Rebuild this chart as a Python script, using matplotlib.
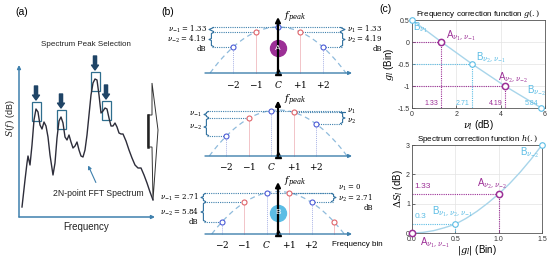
import numpy as np
import matplotlib.pyplot as plt
from matplotlib.patches import Rectangle, Polygon

plt.rcParams['font.family'] = ['Liberation Sans', 'DejaVu Sans']
plt.rcParams['mathtext.fontset'] = 'dejavuserif'

W, H = 550, 260

# ---------------- data ----------------
# (a) spectrum sketch (frequency, level in arbitrary units)
spec_f = [3, 6, 8, 9, 11, 13, 15, 17, 19, 21, 23, 25, 27, 29, 31, 34, 36, 38, 40, 42, 44, 46, 48,
          50, 52, 54, 56, 58, 60, 62, 64, 66, 68, 70, 72, 74, 76, 78, 80, 82, 84, 86, 88, 90, 92,
          94, 96, 98, 100, 102, 104, 107, 110, 113, 116, 119, 122, 125, 128, 131, 134]
spec_s = [10, 37, 54, 61, 52, 72, 97, 108, 105, 92, 88, 95, 91, 80, 62, 42, 54, 79, 96, 100, 94,
          80, 77, 82, 75, 69, 71, 75, 67, 61, 60, 67, 82, 102, 122, 134, 138, 137, 122, 104, 106,
          109, 108, 99, 91, 91, 94, 90, 84, 83, 83, 76, 67, 59, 52, 49, 49, 42, 34, 25, 17]
peak_f = [17, 42, 76, 87]
peak_s = [108, 100, 138, 109]

# (b) bins relative to f_peak, drawn level relative to the lobe top
row_bins = [[-2, -1, 0, 1, 2], [-2, -1, 0, 1, 2], [-2, -1, 0, 1, 2, 3]]
row_shift = [0.0, -0.3, -0.5]
row_level = [[-20, -5, 0, -5, -20],
             [-25.5, -7.5, -0.5, -1.5, -13.5],
             [-30, -10, -1, -1, -10, -30]]
tick_names = {-2: '$-2$', -1: '$-1$', 0: '$C$', 1: '$+1$', 2: '$+2$'}
nu_left = [['1.33', '4.19'], None, ['2.71', '5.84']]
nu_right = [['1.33', '4.19'], None, ['0', '2.71']]
row_badge = ['A', None, 'B']

# (c) correction functions
g_nu = [0, 1.33, 2.71, 4.19, 5.84]
g_val = [0.5, 0, -0.5, -1, -1.5]
g_kind = ['B', 'A', 'B', 'A', 'B']
g_tags = [r'B$_{\nu_1}$', r'A$_{\nu_1,\nu_{-1}}$', r'B$_{\nu_2,\nu_{-1}}$',
          r'A$_{\nu_2,\nu_{-2}}$', r'B$_{\nu_{-2}}$']

h_g = [0, 0.5, 1, 1.5]
h_ds = [0, 0.3, 1.33, 3]
h_kind = ['A', 'B', 'A', 'B']
h_tags = [r'A$_{\nu_1,\nu_{-1}}$', r'B$_{\nu_1,\nu_2,\nu_{-1}}$',
          r'A$_{\nu_2,\nu_{-2}}$', r'B$_{\nu_{-2}}$']
h_curve_g = [0, 0.125, 0.25, 0.375, 0.5, 0.625, 0.75, 0.875, 1.0, 1.125, 1.25, 1.375, 1.5]
h_curve_ds = [0, 0.02, 0.08, 0.18, 0.3, 0.5, 0.74, 1.02, 1.33, 1.68, 2.08, 2.52, 3.0]

# colours
AXC = '#3f80ad'
NAVY = '#1f4466'
BLUE = '#4b5bd6'
RED = '#e0646a'
PURPLE = '#9c2f96'
CYAN = '#5cbde5'
LINE = '#a8d5ea'

fig = plt.figure(figsize=(5.5, 2.6), dpi=100)


def px_axes(x0, y0, x1, y1):
    return fig.add_axes([x0 / W, 1 - y1 / H, (x1 - x0) / W, (y1 - y0) / H])


def ftext(x, y, s, **kw):
    fig.text(x / W, 1 - y / H, s, **kw)


ftext(22, 12, '(a)', fontsize=7.5, ha='center', va='center')
ftext(168, 12, '(b)', fontsize=7.5, ha='center', va='center')
ftext(386, 9, '(c)', fontsize=7.5, ha='center', va='center')

# ---------------- (a) ----------------
ax = px_axes(19, 65, 165, 217)
ax.set_xlim(0, 146)
ax.set_ylim(0, 152)
ax.axis('off')
arr = dict(arrowstyle='-|>', color=AXC, lw=1.1, mutation_scale=5, shrinkA=0, shrinkB=0)
ax.annotate('', xy=(0, 152), xytext=(0, 0), arrowprops=arr)
ax.annotate('', xy=(136, 0), xytext=(0, 0), arrowprops=arr)
ax.plot(spec_f, spec_s, color='#2d2d3a', lw=1.0)
for pf, ps in zip(peak_f, peak_s):
    ax.add_patch(Rectangle((pf - 4.5, ps - 12), 9, 19, fill=False, ec='#2f6e8e', lw=0.9))
    ax.annotate('', xy=(pf, ps + 9), xytext=(pf, ps + 23),
                arrowprops=dict(arrowstyle='simple,head_length=0.7,head_width=1.0,tail_width=0.45',
                                color=NAVY, mutation_scale=5, shrinkA=0, shrinkB=0))
ax.text(67, 172, 'Spectrum Peak Selection', fontsize=5.8, ha='center', va='center', color='#222')
ax.text(-9, 99, '$S(f)$ (dB)', fontsize=6.5, rotation=90, ha='center', va='center', color='#222')
ax.text(67, -10, 'Frequency', fontsize=7, ha='center', va='center', color='#222')
ax.text(79, 24, '2N-point FFT Spectrum', fontsize=6.2, ha='center', va='center', color='#222')
ax.annotate('', xy=(68, 54), xytext=(78, 32),
            arrowprops=dict(arrowstyle='-|>', color=AXC, lw=0.8, mutation_scale=5))
big = [(133, 134), (139, 87), (134, 17), (133, 70), (129, 70), (129, 102), (133, 102)]
ax.add_patch(Polygon(big, closed=True, fill=False, ec='#333', lw=0.7))
ax.plot([129, 129], [70, 102], color='#222', lw=1.8)

# ---------------- (b) ----------------
peak_px, bin_px = 278, 22.4
frames = [(10, 92, 27), (94, 172, 110.5), (174, 256, 192)]
axis_px = [73, 156, 234]
lbrace_px = [212, 207, 204]
rbrace_px = [342, 342, 333]
BR = '#2e6f9e'
NUFS = 5.0


def brace(ax, x, y0, y1, left, w):
    ym = (y0 + y1) / 2
    s = 1 if left else -1
    xs = [x + s * w, x + s * w * 0.3, x + s * w * 0.3, x - s * w * 0.5, x + s * w * 0.3, x + s * w * 0.3, x + s * w]
    d = min(1.0, abs(y1 - y0) / 4)
    hi, lo = max(y0, y1), min(y0, y1)
    ys = [hi, hi - d, ym + d, ym, ym - d, lo + d, lo]
    ax.plot(xs, ys, color=BR, lw=0.8)


for r in range(3):
    top, bot, vtx = frames[r]
    ax = px_axes(160, top, 400, bot)
    ax.set_xlim((160 - peak_px) / bin_px, (400 - peak_px) / bin_px)
    ax.set_ylim(vtx - bot, vtx - top)
    ax.axis('off')
    bx = lambda p: (p - peak_px) / bin_px
    ay = vtx - axis_px[r]
    bins = np.array(row_bins[r])
    xs = bins + row_shift[r]
    lv = np.array(row_level[r], dtype=float)

    ax.annotate('', xy=(bx(352), ay), xytext=(bx(205), ay),
                arrowprops=dict(arrowstyle='-|>', color=AXC, lw=1.0, mutation_scale=5, shrinkA=0, shrinkB=0))
    cf = np.polyfit(xs, lv, 2)
    roots = np.sort(np.roots(cf - np.array([0, 0, ay])).real)
    xx = np.linspace(roots[0], roots[1], 200)
    ax.plot(xx, np.polyval(cf, xx), color='#8fbbdc', lw=0.9, ls=(0, (4, 3)))

    kidx = {k: i for i, k in enumerate(bins)}
    imax = int(np.argmax(lv))
    xl, xr = bx(lbrace_px[r]), bx(rbrace_px[r])
    hl = dict(color=AXC, lw=0.8, ls=(0, (1, 1)))
    ax.plot([xl, xr], [lv[imax]] * 2, **hl)
    for k in (-1, -2):
        ax.plot([xl, xs[kidx[k]]], [lv[kidx[k]]] * 2, **hl)
    for k in (1, 2):
        ax.plot([xs[kidx[k]], xr], [lv[kidx[k]]] * 2, **hl)

    for k, x, y in zip(bins, xs, lv):
        if k % 2:
            ax.plot([x, x], [ay, y], color='#f2c4c8', lw=0.7)
        else:
            ax.plot([x, x], [ay, y], color='#a9b3e6', lw=0.7, ls=(0, (1, 1)))
    for k, x, y in zip(bins, xs, lv):
        ax.plot(x, y, 'o', ms=3.6, mfc='white', mew=0.8, color=RED if k % 2 else BLUE)

    ax.annotate('', xy=(0, 10), xytext=(0, ay),
                arrowprops=dict(arrowstyle='-|>', color='k', lw=1.6, mutation_scale=7, shrinkA=0, shrinkB=0))
    ax.plot(0, ay + 1.5, marker='^', color='k', ms=4)
    ax.text(0.25, 10, r'$f_{peak}$', fontsize=7, ha='left', va='center')
    if row_badge[r]:
        c = PURPLE if row_badge[r] == 'A' else CYAN
        ax.plot(0, -21, 'o', ms=11.5, color=c)
        ax.text(0, -21, row_badge[r], color='white', fontsize=6, ha='center', va='center')

    for k, x in zip(bins, xs):
        if k in tick_names:
            ax.text(x, ay - 11, tick_names[k], fontsize=6.5, ha='center', va='center')
    if r == 2:
        ax.text(bx(332), ay - 11, 'Frequency bin', fontsize=5.8, ha='left', va='center')

    # braces and labels
    w = 3 / bin_px
    L = [(lv[imax], lv[kidx[-1]]), (lv[kidx[-1]], lv[kidx[-2]])]
    R = [(lv[imax], lv[kidx[1]]), (lv[kidx[1]], lv[kidx[2]])]
    names_l = [r'$\nu_{-1}$', r'$\nu_{-2}$']
    names_r = [r'$\nu_1$', r'$\nu_2$']
    lab = None
    prev = None
    for i, (y0, y1) in enumerate(L):
        brace(ax, xl - 0.5 * w, y0 - 0.5, y1 + 0.5, True, w)
        ym = (y0 + y1) / 2
        if prev is not None:
            ym = min(ym, prev - 8)
        prev = ym
        s = names_l[i] + ('' if nu_left[r] is None else ' = ' + nu_left[r][i])
        lab = ax.text(xl - 1.8 * w, ym, s, fontsize=NUFS, ha='right', va='center',
                      family='DejaVu Serif')
    if nu_left[r] is not None:
        ax.annotate('dB', xy=(1, 0), xycoords=lab, ha='right', va='top', fontsize=NUFS,
                    family='DejaVu Serif')
    prev = None
    for i, (y0, y1) in enumerate(R):
        ym = (y0 + y1) / 2
        if abs(y0 - y1) > 0.1:
            brace(ax, xr + 0.5 * w, y0 - 0.5, y1 + 0.5, False, w)
        else:
            ym = y0 + 5
        if prev is not None:
            ym = min(ym, prev - 10)
        prev = ym
        s = names_r[i] + ('' if nu_right[r] is None else ' = ' + nu_right[r][i])
        lab = ax.text(xr + 1.8 * w, ym, s, fontsize=NUFS, ha='left', va='center',
                      family='DejaVu Serif')
    if nu_right[r] is not None:
        ax.annotate('dB', xy=(1, 0), xycoords=lab, ha='right', va='top', fontsize=NUFS,
                    family='DejaVu Serif')

# ---------------- (c) ----------------
def style(ax):
    ax.grid(True, color='#e3e3e3', lw=0.5)
    ax.set_axisbelow(True)
    for sp in ax.spines.values():
        sp.set_color('#555')
        sp.set_linewidth(0.6)
    ax.tick_params(labelsize=5, length=2, width=0.5, pad=1.5, direction='in', colors='#333')
    ax.tick_params(axis='x', pad=2.5)


axg = px_axes(412, 20, 545, 108)
style(axg)
axg.set_xlim(0, 6)
axg.set_ylim(-1.5, 0.5)
axg.set_xticks([0, 2, 4, 6])
axg.set_yticks([-1.5, -1, -0.5, 0, 0.5])
axg.set_yticklabels(['-1.5', '-1', '-0.5', '0', '0.5'])
axg.set_title('Frequency correction function $g(.)$', fontsize=5.8, pad=2.5)
axg.set_xlabel(r'$\nu_l$ (dB)', fontsize=7, labelpad=0)
axg.set_ylabel(r'$g_l$ (Bin)', fontsize=7, labelpad=1)
axg.plot(g_nu, g_val, color=LINE, lw=1.0, zorder=2)
g_off = [(1, -8), (5, 6), (4, 6), (-7, 8), (-14, 17)]
for i, (x, y, k) in enumerate(zip(g_nu, g_val, g_kind)):
    c = PURPLE if k == 'A' else CYAN
    if 0 < i < 4:
        axg.plot([0, x], [y, y], color=c, lw=0.8, ls=(0, (1, 1)), zorder=2)
        axg.plot([x, x], [y, -1.5], color=c, lw=0.8, ls=(0, (1, 1)), zorder=2)
    if i > 0:
        axg.text(x - 0.12, -1.47, f'{x:.2f}', color=c, fontsize=5, ha='right', va='bottom')
    axg.plot(x, y, 'o', ms=4.5 if k == 'A' else 4, mfc='white', mew=1.1 if k == 'A' else 0.8,
             color=c, clip_on=False, zorder=3)
    axg.annotate(g_tags[i], (x, y), xytext=g_off[i], textcoords='offset pixels', color=c,
                 fontsize=7, ha='left', va='center')

axh = px_axes(412, 145, 542, 233)
style(axh)
axh.set_xlim(0, 1.5)
axh.set_ylim(0, 3)
axh.set_xticks([0, 0.5, 1, 1.5])
axh.set_yticks([0, 1, 2, 3])
axh.set_title('Spectrum correction function $h(.)$', fontsize=5.8, pad=2.5)
axh.set_xlabel(r'$|g_l|$ (Bin)', fontsize=7, labelpad=0)
axh.set_ylabel(r'$\Delta S_l$ (dB)', fontsize=7, labelpad=1)
axh.plot(h_curve_g, h_curve_ds, color=LINE, lw=1.0, zorder=2)
h_off = [(8, -10), (-23, 12), (-22, 10), (-22, -8)]
for i, (x, y, k) in enumerate(zip(h_g, h_ds, h_kind)):
    c = PURPLE if k == 'A' else CYAN
    if 0 < i < 3:
        axh.plot([0, x], [y, y], color=c, lw=0.8, ls=(0, (1, 1)), zorder=2)
        axh.plot([x, x], [y, 0], color=c, lw=0.8, ls=(0, (1, 1)), zorder=2)
        axh.text(0.03, y + 0.13, f'{y:g}', color=c, fontsize=6, ha='left', va='bottom')
    axh.plot(x, y, 'o', ms=4.5 if k == 'A' else 4, mfc='white', mew=1.1 if k == 'A' else 0.8,
             color=c, clip_on=False, zorder=3)
    axh.annotate(h_tags[i], (x, y), xytext=h_off[i], textcoords='offset pixels', color=c,
                 fontsize=7, ha='left', va='center', annotation_clip=False)

fig.savefig('out.png', dpi=100)
